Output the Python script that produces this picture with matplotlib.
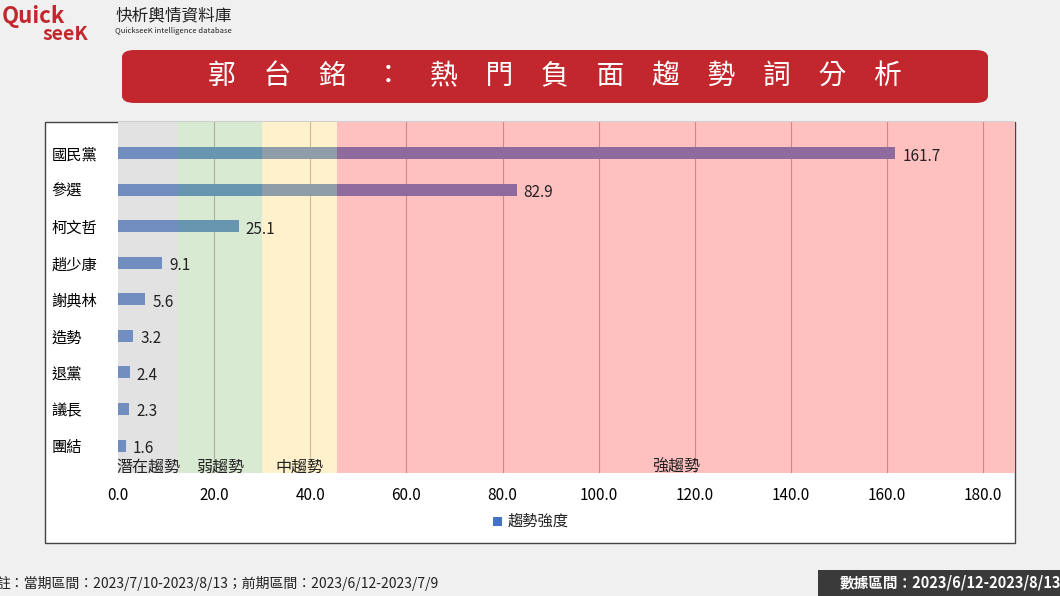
import matplotlib
matplotlib.use("Agg")
import matplotlib.pyplot as plt
from matplotlib.patches import FancyBboxPatch, Rectangle

plt.rcParams['font.family'] = ['Noto Sans CJK TC', 'DejaVu Sans']

categories = ["國民黨", "參選", "柯文哲", "趙少康", "謝典林", "造勢", "退黨", "議長", "團結"]
values = [161.7, 82.9, 25.1, 9.1, 5.6, 3.2, 2.4, 2.3, 1.6]
bands = [(0, 12.5, '#b8b8b8', '潛在趨勢'), (12.5, 30, '#a0cb91', '弱趨勢'),
         (30, 45.6, '#ffde80', '中趨勢'), (45.6, 186.6, '#ff6262', '強趨勢')]
xticks = [0, 20, 40, 60, 80, 100, 120, 140, 160, 180]

W, H = 1060, 596
fig = plt.figure(figsize=(W/100, H/100), dpi=100)
fig.patch.set_facecolor('#f0f0f0')

# frame
fig.patches.append(Rectangle((45/W, 1-543/H), 970/W, 421/H, transform=fig.transFigure,
                             facecolor='white', edgecolor='#444444', lw=1, zorder=-5))

ax = fig.add_axes([118/W, 1-473/H, (1015-118)/W, (473-122)/H], zorder=1)
ax.set_facecolor('white')
y = list(range(len(categories)))
ax.barh(y, values, height=0.33, color='#4472c4', zorder=2)
for b0, b1, c, lab in bands:
    ax.axvspan(b0, b1, color=c, alpha=0.4, lw=0, zorder=3)
    ax.text((b0+b1)/2, 8.6, lab, ha='center', va='center', fontsize=11.5, color='#222222', zorder=5)
for xv in xticks[1:]:
    ax.axvline(xv, color='#b0a0a0', lw=0.8, zorder=1)
for yi, v in zip(y, values):
    ax.text(v + 1.5, yi + 0.08, f"{v:.1f}", va='center', ha='left', fontsize=11, color='#222222', zorder=5)
ax.set_xlim(0, 186.6)
ax.set_ylim(8.75, -0.85)
ax.set_yticks(y)
ax.set_yticklabels(categories, fontsize=11, ha='left')
ax.set_xticks(xticks)
ax.set_xticklabels([f"{x:.1f}" for x in xticks], fontsize=11)
ax.tick_params(length=0, pad=10)
ax.tick_params(axis='y', pad=48)
for s in ax.spines.values():
    s.set_visible(False)

# legend
fig.patches.append(Rectangle((493/W, 1-526/H), 9/W, 9/H, transform=fig.transFigure,
                             facecolor='#4472c4', lw=0))
fig.text(508/W, 1-521/H, "趨勢強度", fontsize=11, va='center', color='#222222')

# title banner
fig.patches.append(FancyBboxPatch((122/W, 1-103/H), 866/W, 53/H, transform=fig.transFigure,
                                  boxstyle="round,pad=0,rounding_size=0.012",
                                  facecolor='#c1272d', edgecolor='none'))
fig.text(555/W, 1-76/H, "郭　台　銘　：　熱　門　負　面　趨　勢　詞　分　析", fontsize=20,
         color='white', ha='center', va='center', fontweight='medium')

# logo
fig.text(2/W, 1-17/H, "Quick", fontsize=16, color='#c1272d', fontweight='bold', style='italic', va='center')
fig.text(42/W, 1-35/H, "seeK", fontsize=14, color='#c1272d', fontweight='bold', style='italic', va='center')
fig.text(115/W, 1-16/H, "快析輿情資料庫", fontsize=12, color='#222222', va='center')
fig.text(115/W, 1-31/H, "QuickseeK intelligence database", fontsize=5.5, color='#222222', va='center')

# footer
fig.text(-4/W, 1-583/H, "註：當期區間：2023/7/10-2023/8/13；前期區間：2023/6/12-2023/7/9", fontsize=10,
         color='#222222', va='center')
fig.patches.append(Rectangle((818/W, 0), 250/W, 26/H, transform=fig.transFigure,
                             facecolor='#3a3a3a', lw=0))
fig.text(840/W, 1-583/H, "數據區間：2023/6/12-2023/8/13", fontsize=10.5, color='white',
         fontweight='bold', va='center')

fig.savefig("out.png", dpi=100, facecolor=fig.get_facecolor())
